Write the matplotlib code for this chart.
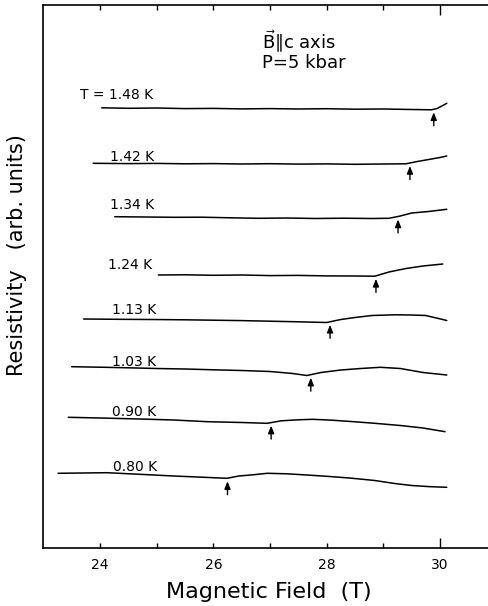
import numpy as np
import matplotlib
matplotlib.use("Agg")
import matplotlib.pyplot as plt

plt.rcParams['font.family'] = ['DejaVu Sans']

# ---- data (field in T, resistivity in arbitrary units, curves offset) ----
temps = ["T = 1.48 K", "1.42 K", "1.34 K", "1.24 K", "1.13 K", "1.03 K", "0.90 K", "0.80 K"]

field_148 = [24.03, 24.5, 25.0, 25.5, 26.0, 26.5, 27.0, 27.5, 28.0, 28.5, 29.0, 29.5, 29.85, 29.95, 30.05, 30.12]
rho_148 = [440.2, 439.7, 440.0, 439.4, 439.6, 439.1, 439.4, 439.0, 439.3, 438.8, 439.0, 438.5, 438.2, 439.5, 442.5, 444.7]

field_142 = [23.88, 24.5, 25.0, 25.5, 26.0, 26.5, 27.0, 27.5, 28.0, 28.5, 29.0, 29.4, 29.6, 29.8, 30.0, 30.12]
rho_142 = [384.7, 384.4, 384.6, 384.2, 384.4, 384.0, 384.3, 383.9, 384.1, 383.7, 384.0, 384.2, 386.5, 388.5, 390.5, 392.0]

field_134 = [24.26, 24.8, 25.3, 25.8, 26.3, 26.8, 27.3, 27.8, 28.3, 28.8, 29.1, 29.3, 29.5, 29.8, 30.12]
rho_134 = [331.3, 331.0, 330.7, 330.8, 330.2, 329.7, 330.0, 329.5, 329.8, 329.5, 329.7, 332.0, 335.0, 336.5, 338.7]

field_124 = [25.03, 25.5, 26.0, 26.5, 27.0, 27.5, 28.0, 28.5, 28.85, 29.1, 29.4, 29.7, 30.05]
rho_124 = [273.0, 273.2, 272.7, 273.0, 272.4, 272.6, 272.1, 272.0, 271.8, 276.0, 279.5, 282.0, 284.0]

field_113 = [23.71, 24.3, 24.9, 25.5, 26.0, 26.5, 27.0, 27.5, 28.0, 28.25, 28.5, 28.8, 29.2, 29.5, 29.75, 30.12]
rho_113 = [229.0, 228.7, 228.5, 228.2, 227.8, 227.4, 226.8, 226.2, 225.5, 228.5, 230.5, 232.5, 233.2, 233.0, 232.5, 227.5]

field_103 = [23.5, 24.0, 24.5, 25.0, 25.5, 26.0, 26.5, 27.0, 27.4, 27.65, 27.9, 28.25, 28.6, 28.95, 29.3, 29.7, 30.12]
rho_103 = [181.3, 180.8, 180.2, 179.5, 179.0, 178.2, 177.5, 176.5, 174.5, 172.5, 175.5, 178.0, 179.5, 180.7, 179.5, 175.5, 173.0]

field_090 = [23.44, 24.0, 24.7, 25.3, 25.9, 26.5, 26.95, 27.2, 27.5, 27.75, 28.1, 28.5, 28.85, 29.3, 29.7, 30.09]
rho_090 = [130.7, 130.0, 129.0, 128.0, 126.3, 125.5, 124.7, 127.2, 128.2, 128.7, 127.8, 126.2, 124.7, 122.5, 120.0, 116.3]

field_080 = [23.26, 23.7, 24.12, 24.7, 25.3, 25.8, 26.24, 26.45, 26.7, 26.95, 27.3, 27.65, 28.0, 28.4, 28.85, 29.2, 29.5, 29.8, 30.12]
rho_080 = [74.7, 75.0, 75.3, 73.7, 72.0, 70.8, 69.7, 72.0, 73.2, 74.7, 74.2, 73.0, 71.7, 70.0, 67.5, 64.5, 62.5, 61.4, 60.7]

# transition fields marked by arrows
transition_fields = [29.89, 29.47, 29.26, 28.87, 28.06, 27.72, 27.02, 26.25]

xticks_major = [24, 26, 28, 30]
xticks_minor = [25, 27, 29]

fields = [field_148, field_142, field_134, field_124, field_113, field_103, field_090, field_080]
rhos = [rho_148, rho_142, rho_134, rho_124, rho_113, rho_103, rho_090, rho_080]

# ---- style / positions ----
label_x = [23.65, 24.18, 24.18, 24.14, 24.21, 24.21, 24.21, 24.23]
label_y = [453, 391.3, 343, 283, 238, 186.3, 136.3, 80.7]

W, H = 489, 606
fig = plt.figure(figsize=(W / 100, H / 100), dpi=100)
ax = fig.add_axes([43 / W, 1 - 548 / H, 1 - 43 / W, (548 - 5) / H])
ax.set_xlim(22.994, 30.865)
ax.set_ylim(0, 543)

for f, r in zip(fields, rhos):
    ax.plot(f, r, color='black', lw=1.1, solid_capstyle='round')

for f, r, bt in zip(fields, rhos, transition_fields):
    yc = np.interp(bt, f, r)
    tip = yc - 3.0
    tail = tip - 13.5
    ax.annotate('', xy=(bt, tip), xytext=(bt, tail),
                arrowprops=dict(arrowstyle='-|>,head_length=0.45,head_width=0.18',
                                color='black', lw=1.0, shrinkA=0, shrinkB=0))

for t, lx, ly in zip(temps, label_x, label_y):
    ax.text(lx, ly, t, fontsize=10, ha='left', va='center')

ax.text(26.86, 506.5, r"$\vec{\mathrm{B}}$" + "\u2225c axis", fontsize=13, ha='left', va='center')
ax.text(26.86, 485, "P=5 kbar", fontsize=13, ha='left', va='center')

ax.spines['right'].set_visible(False)
for s in ['left', 'bottom', 'top']:
    ax.spines[s].set_linewidth(1.2)

ax.set_xticks(xticks_major)
ax.set_xticks(xticks_minor, minor=True)
ax.set_xticklabels([str(v) for v in xticks_major], fontsize=10)
ax.tick_params(axis='x', which='both', direction='in', top=True, bottom=True,
               length=3.5, width=1.0, pad=7)
ax.set_yticks([])
# the 30 T tick is drawn longer in the original
last = ax.xaxis.get_major_ticks()[-1]
last.tick1line.set_markersize(7)
last.tick2line.set_markersize(7)

ax.set_xlabel("Magnetic Field  (T)", fontsize=16)
ax.xaxis.set_label_coords((269 - 43) / (W - 43), -(592 - 548) / 543)
ax.xaxis.label.set_va('center')

fig.text(17 / W, 1 - 255 / H, "Resistivity   (arb. units)", rotation=90,
         fontsize=15, ha='center', va='center')

fig.savefig("out.png", dpi=100)
